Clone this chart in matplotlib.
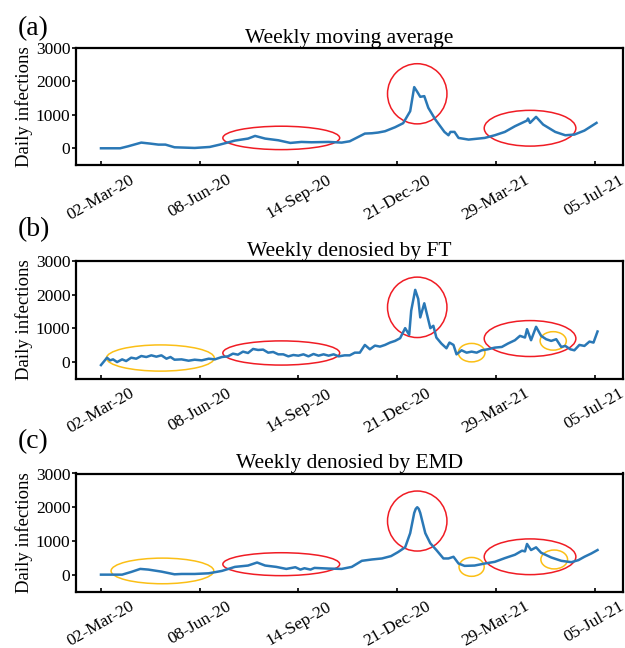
import numpy as np
import matplotlib
matplotlib.use('Agg')
import matplotlib.pyplot as plt
from matplotlib.patches import Ellipse

plt.rcParams['font.family'] = ['Liberation Serif', 'DejaVu Serif']

# x axis: days since 02-Mar-20
tick_days = [0, 98, 196, 294, 392, 490]
tick_labels = ['02-Mar-20', '08-Jun-20', '14-Sep-20', '21-Dec-20', '29-Mar-21', '05-Jul-21']

# (a) weekly moving average
days_a = [0, 19, 27, 40, 49, 57, 64, 73, 93, 108, 118, 133, 146, 153, 163, 176, 188, 199,
          209, 226, 239, 247, 262, 269, 275, 282, 292, 300, 307, 311, 314, 317, 321, 325,
          332, 341, 345, 347, 351, 355, 365, 381, 391, 401, 411, 423, 424, 426, 432, 439,
          451, 461, 470, 480, 492]
vals_a = [0, 0, 60, 170, 140, 110, 110, 30, 10, 40, 110, 230, 290, 370, 290, 240, 160, 190,
          180, 190, 170, 210, 440, 450, 470, 510, 630, 750, 1110, 1830, 1690, 1540, 1560, 1210,
          860, 490, 390, 490, 490, 310, 260, 310, 390, 490, 660, 830, 890, 760, 940, 710,
          490, 390, 410, 530, 760]

# (b) denoised by FT
days_b = [0, 6, 9, 12, 16, 21, 25, 30, 35, 40, 45, 50, 55, 60, 65, 69, 73, 80, 87, 93, 100,
          107, 113, 120, 126, 131, 136, 141, 146, 151, 156, 161, 166, 171, 176, 181, 186, 191,
          196, 201, 206, 211, 216, 221, 226, 231, 236, 242, 247, 252, 257, 262, 267, 272, 277,
          282, 287, 292, 297, 302, 306, 308, 312, 315, 317, 321, 324, 327, 330, 333, 338, 343,
          346, 350, 353, 358, 363, 368, 373, 378, 384, 391, 398, 404, 411, 416, 421, 423, 427,
          432, 437, 442, 447, 452, 457, 461, 466, 470, 475, 480, 485, 489, 493]
vals_b = [-100, 120, 40, 70, -10, 70, 20, 120, 90, 170, 140, 190, 150, 190, 90, 140, 60, 70,
          30, 60, 40, 90, 70, 140, 160, 240, 210, 300, 260, 380, 350, 360, 270, 290, 220, 220,
          160, 200, 180, 220, 160, 230, 180, 220, 180, 220, 160, 190, 190, 270, 270, 500, 370,
          480, 450, 500, 570, 620, 700, 1000, 800, 1520, 2140, 1870, 1320, 1740, 1370, 1000,
          1070, 720, 540, 400, 570, 500, 220, 340, 270, 300, 270, 340, 370, 420, 440, 540, 640,
          770, 720, 970, 640, 1040, 770, 670, 620, 670, 440, 470, 370, 340, 500, 470, 600, 570,
          900]

# (c) denoised by EMD
days_c = [0, 21, 30, 39, 47, 60, 73, 80, 93, 107, 120, 133, 146, 155, 163, 174, 184, 193,
          198, 202, 208, 212, 226, 239, 249, 259, 269, 279, 288, 295, 302, 307, 309, 311,
          312.5, 314, 315.5, 317, 319.5, 322, 327, 333, 340, 345, 350, 355, 361, 371, 381,
          391, 401, 411, 418, 421, 423, 427, 432, 437, 447, 457, 467, 474, 480, 487, 493]
vals_c = [0, 0, 80, 170, 150, 90, 10, 20, 20, 40, 110, 230, 270, 360, 270, 230, 170, 220,
          150, 190, 150, 200, 180, 170, 230, 410, 450, 480, 550, 670, 810, 1230, 1530, 1830,
          1950, 2000, 1950, 1830, 1530, 1230, 930, 730, 480, 480, 530, 330, 260, 270, 330,
          380, 490, 590, 710, 690, 910, 730, 810, 650, 510, 410, 370, 430, 530, 630, 730]

titles = ['Weekly moving average', 'Weekly denosied by FT', 'Weekly denosied by EMD']
panel_tags = ['(a)', '(b)', '(c)']

RED = '#f01c24'
YEL = '#fbbf16'
# annotation ellipses: (centre day, centre value, width days, height value, colour)
marks = [
    [(179, 310, 116, 700, RED), (314, 1630, 59, 1800, RED), (426, 600, 91, 1070, RED)],
    [(59, 110, 107, 780, YEL), (179, 260, 116, 720, RED), (314, 1620, 59, 1800, RED),
     (368, 270, 26.5, 550, YEL), (426, 690, 91, 1070, RED), (449, 620, 26, 550, YEL)],
    [(61, 110, 102, 760, YEL), (179, 310, 116, 680, RED), (314, 1590, 59, 1780, RED),
     (368, 230, 25, 560, YEL), (426, 530, 91, 1060, RED), (450, 450, 26.5, 560, YEL)],
]

series = [(days_a, vals_a), (days_b, vals_b), (days_c, vals_c)]

fig = plt.figure(figsize=(6.25, 6.48), dpi=100)
W, H = 625.0, 648.0
ax_boxes = [(48, 165), (261, 378.5), (473.5, 591.5)]  # top, bottom in px
tag_y = [29, 230, 442]

for i in range(3):
    top, bot = ax_boxes[i]
    ax = fig.add_axes([76 / W, 1 - bot / H, 546.5 / W, (bot - top) / H])
    d, v = series[i]
    ax.plot(d, v, color='#2a78b6', lw=1.8, solid_joinstyle='round')
    for (cx, cy, ew, eh, col) in marks[i]:
        ax.add_patch(Ellipse((cx, cy), ew, eh, fill=False, edgecolor=col, lw=1.1))
    ax.set_xlim(-24.8, 517.8)
    ax.set_ylim(-500, 3000)
    ax.set_yticks([0, 1000, 2000, 3000])
    ax.set_xticks(tick_days)
    ax.set_xticklabels(tick_labels, rotation=30, ha='center', rotation_mode='default')
    ax.tick_params(axis='x', direction='in', length=3, width=1.2, labelsize=12.5, pad=5)
    ax.tick_params(axis='y', direction='out', length=3, width=1.2, labelsize=12.5, pad=1)
    for s in ax.spines.values():
        s.set_linewidth(1.6)
    ax.set_ylabel('Daily infections', fontsize=13.5, labelpad=2)
    ax.set_title(titles[i], fontsize=15.5, pad=2)
    fig.text(18 / W, 1 - tag_y[i] / H, panel_tags[i], fontsize=20, va='center', ha='left')

plt.savefig('out.png', dpi=100)
